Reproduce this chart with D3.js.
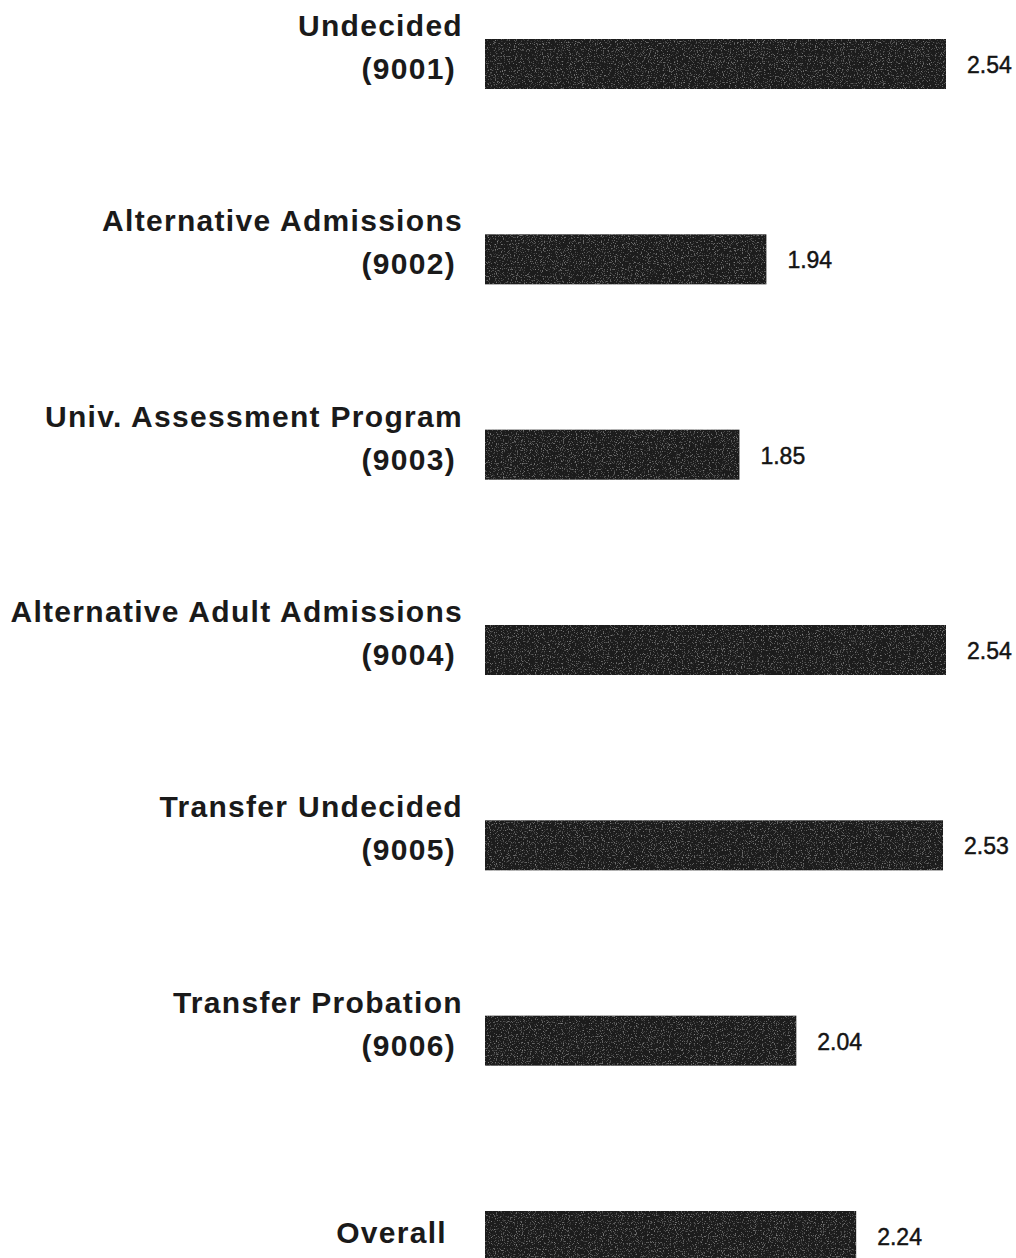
<!DOCTYPE html>
<html>
<head>
<meta charset="utf-8">
<script src="https://cdn.jsdelivr.net/npm/d3@7"></script>
<style>
  html, body { margin: 0; padding: 0; background: #ffffff; }
  svg { display: block; }
</style>
</head>
<body>
<svg id="chart" width="1016" height="1258"></svg>
<script>
const categories = ["Undecided", "Alternative Admissions", "Univ. Assessment Program",
  "Alternative Adult Admissions", "Transfer Undecided", "Transfer Probation", "Overall"];
const codes = ["(9001)", "(9002)", "(9003)", "(9004)", "(9005)", "(9006)", ""];
const values = [2.54, 1.94, 1.85, 2.54, 2.53, 2.04, 2.24];
const valueLabels = ["2.54", "1.94", "1.85", "2.54", "2.53", "2.04", "2.24"];

const svg = d3.select("#chart");
const FONT = "Liberation Sans, Arial, Helvetica, sans-serif";

const x = d3.scaleLinear().domain([1, 2.54]).range([485, 946]);
const y = d3.scaleBand().domain(categories).range([39, 1261]).paddingInner(0.744).paddingOuter(0);

// texture filter for scanned-looking bars
const defs = svg.append("defs");
const f = defs.append("filter").attr("id", "grain").attr("x", 0).attr("y", 0).attr("width", 1).attr("height", 1);
f.append("feTurbulence").attr("type", "fractalNoise").attr("baseFrequency", 0.85).attr("numOctaves", 2).attr("seed", 3).attr("result", "noise");
f.append("feColorMatrix").attr("in", "noise").attr("type", "matrix")
  .attr("values", "0 0 0 0 0.5  0 0 0 0 0.5  0 0 0 0 0.5  1.5 0 0 0 -0.85")
  .attr("result", "speck");
f.append("feComposite").attr("in", "speck").attr("in2", "SourceGraphic").attr("operator", "in").attr("result", "sp2");
f.append("feMerge").selectAll("feMergeNode").data(["SourceGraphic", "sp2"]).enter()
  .append("feMergeNode").attr("in", d => d);

const g = svg.append("g");

g.selectAll("rect.bar").data(values).enter().append("rect")
  .attr("class", "bar")
  .attr("x", x(1))
  .attr("y", (d, i) => y(categories[i]))
  .attr("width", d => x(d) - x(1))
  .attr("height", y.bandwidth())
  .attr("fill", "#1f1f1f")
  .attr("filter", "url(#grain)");

g.selectAll("text.val").data(values).enter().append("text")
  .attr("class", "val")
  .attr("x", d => x(d) + 21)
  .attr("y", (d, i) => y(categories[i]) + y.bandwidth() / 2 + 9)
  .attr("font-family", FONT)
  .attr("font-size", 23)
  .attr("fill", "#141414")
  .attr("stroke", "#141414").attr("stroke-width", 0.45)
  .text((d, i) => valueLabels[i]);

const lbl = g.selectAll("g.lbl").data(categories).enter().append("g").attr("class", "lbl");
lbl.append("text")
  .attr("x", (d, i) => codes[i] ? 463 : 447)
  .attr("y", (d, i) => y(d) + y.bandwidth() / 2 + (codes[i] ? -28 : 7))
  .attr("text-anchor", "end")
  .attr("font-family", FONT)
  .attr("font-weight", "bold")
  .attr("font-size", 30)
  .attr("letter-spacing", "1.3px")
  .attr("fill", "#1a1a1a")
  .text(d => d);
lbl.append("text")
  .attr("x", 456)
  .attr("y", (d, i) => y(d) + y.bandwidth() / 2 + 15)
  .attr("text-anchor", "end")
  .attr("font-family", FONT)
  .attr("font-weight", "bold")
  .attr("font-size", 30)
  .attr("letter-spacing", "1.3px")
  .attr("fill", "#1a1a1a")
  .text((d, i) => codes[i]);
</script>
</body>
</html>
